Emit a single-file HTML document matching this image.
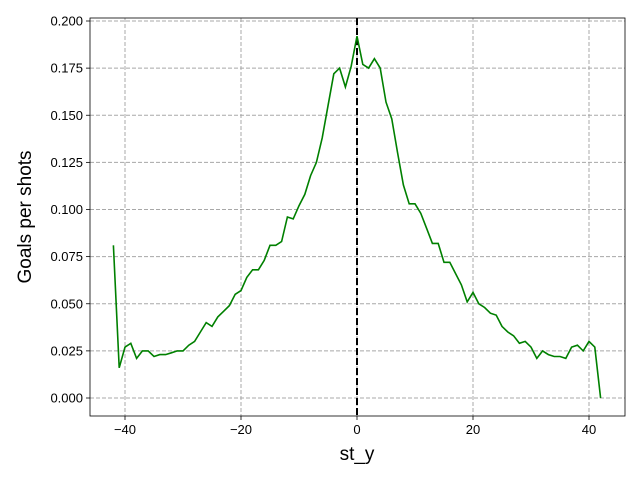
<!DOCTYPE html>
<html><head><meta charset="utf-8"><style>
body{margin:0;background:#fff;}
text{font-family:"Liberation Sans","DejaVu Sans",sans-serif;}
</style></head><body>
<svg id="chart" width="640" height="480" viewBox="0 0 640 480"></svg>
<script>
const xTicks=[-40,-20,0,20,40];
const yTicks=[0,0.025,0.05,0.075,0.1,0.125,0.15,0.175,0.2];
const yTickLabels=["0.000","0.025","0.050","0.075","0.100","0.125","0.150","0.175","0.200"];
const stY=[-42,-41,-40,-39,-38,-37,-36,-35,-34,-33,-32,-31,-30,-29,-28,-27,-26,-25,-24,-23,-22,-21,-20,-19,-18,-17,-16,-15,-14,-13,-12,-11,-10,-9,-8,-7,-6,-5,-4,-3,-2,-1,0,1,2,3,4,5,6,7,8,9,10,11,12,13,14,15,16,17,18,19,20,21,22,23,24,25,26,27,28,29,30,31,32,33,34,35,36,37,38,39,40,41,42];
const goalsPerShot=[0.081,0.016,0.027,0.029,0.021,0.025,0.025,0.022,0.023,0.023,0.024,0.025,0.025,0.028,0.030,0.035,0.040,0.038,0.043,0.046,0.049,0.055,0.057,0.064,0.068,0.068,0.073,0.081,0.081,0.083,0.096,0.095,0.102,0.108,0.118,0.125,0.138,0.155,0.172,0.175,0.165,0.176,0.192,0.177,0.175,0.180,0.175,0.157,0.148,0.130,0.113,0.103,0.103,0.098,0.090,0.082,0.082,0.072,0.072,0.066,0.060,0.051,0.056,0.050,0.048,0.045,0.044,0.038,0.035,0.033,0.029,0.030,0.027,0.021,0.025,0.023,0.022,0.022,0.021,0.027,0.028,0.025,0.030,0.027,0.000];
const L=90,R=625,T=18,B=416;
const X=v=>357+v*5.8;
const Y=v=>398-v*1885;
const svg=document.getElementById('chart');
const NS='http://www.w3.org/2000/svg';
function mk(tag,attrs,parent){const e=document.createElementNS(NS,tag);for(const k in attrs)e.setAttribute(k,attrs[k]);(parent||svg).appendChild(e);return e;}
xTicks.forEach(t=>{
  const g=mk('line',{x1:X(t),x2:X(t),y1:T,y2:B,stroke:'#a8a8a8','stroke-dasharray':'4,2','stroke-width':1});
  
  
  mk('line',{x1:X(t),x2:X(t),y1:B,y2:B+4,stroke:'#000','stroke-width':0.8});
  const lb=mk('text',{x:X(t),y:B+18,'text-anchor':'middle','font-size':13});
  lb.textContent=t<0?'\u2212'+(-t):''+t;
  
  
});
yTicks.forEach((t,i)=>{
  const g=mk('line',{x1:L,x2:R,y1:Y(t),y2:Y(t),stroke:'#a8a8a8','stroke-dasharray':'4,2','stroke-width':1});
  
  
  mk('line',{x1:L-4,x2:L,y1:Y(t),y2:Y(t),stroke:'#000','stroke-width':0.8});
  const lb=mk('text',{x:L-7,y:Y(t)+4.5,'text-anchor':'end','font-size':13});
  lb.textContent=yTickLabels[i];
  
  
});
const center=mk('line',{x1:X(0),x2:X(0),y1:T,y2:B,stroke:'#000','stroke-width':2,'stroke-dasharray':'7,3'});


const pts=stY.map((x,i)=>X(x).toFixed(1)+','+Y(goalsPerShot[i]).toFixed(1)).join(' ');
const line=mk('polyline',{points:pts,fill:'none',stroke:'#008000','stroke-width':1.6});


const frame=mk('rect',{x:L,y:T,width:R-L,height:B-T,fill:'none',stroke:'#000','stroke-width':0.8});


const xt=mk('text',{x:357,y:460,'text-anchor':'middle','font-size':19});
xt.textContent='st_y';


const yt=mk('text',{x:0,y:0,'text-anchor':'middle','font-size':19,transform:'translate(31,217) rotate(-90)'});
yt.textContent='Goals per shots';


</script>
</body></html>
